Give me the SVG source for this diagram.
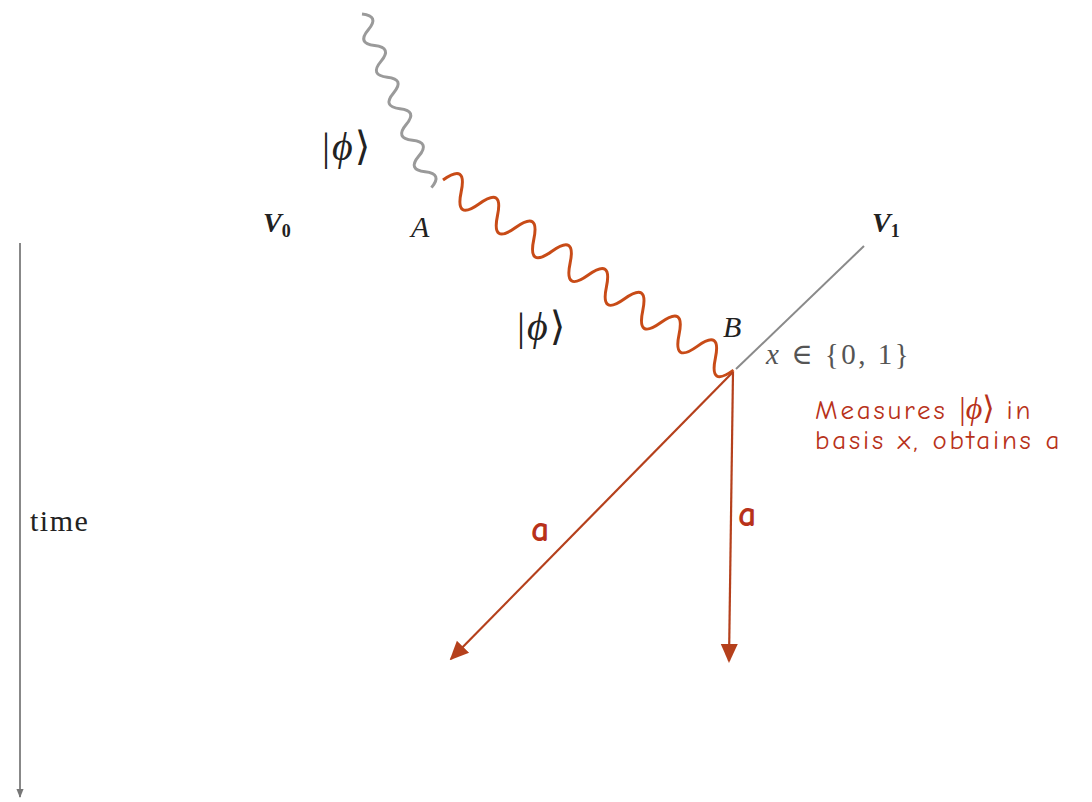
<svg xmlns="http://www.w3.org/2000/svg" width="1092" height="802" viewBox="0 0 1092 802">
<defs>
<style>
.math{font-family:"Liberation Serif","DejaVu Serif",serif;fill:#222}
.it{font-style:italic}
.hand{font-family:"Comic Neue","Lato","Noto Sans",sans-serif;fill:#b8321a}
</style>
<marker id="ahg" viewBox="0 0 10 10" refX="9" refY="5" markerWidth="9" markerHeight="9" markerUnits="userSpaceOnUse" orient="auto"><path d="M0,1L10,5L0,9z" fill="#777"/></marker>
<marker id="ahb" viewBox="0 0 10 10" refX="9" refY="5" markerWidth="19" markerHeight="19" markerUnits="userSpaceOnUse" orient="auto"><path d="M0,0.5L10,5L0,9.5z" fill="#b5401c"/></marker>
</defs>
<rect width="1092" height="802" fill="#fff"/>
<g id="connectors">
<path id="wave-gray" stroke="#9a9a9a" stroke-width="3" fill="none" transform="translate(362,14) rotate(68.2)" d="M0,0 q8.5,-16 17,0 t17,0 t17,0 t17,0 t17,0 t17,0 t17,0 t17,0 t17,0 t17,0 t17,0"/>
<path id="wave-red" stroke="#c84b17" stroke-width="3" fill="none" transform="translate(443,180) rotate(33.2)" d="M0,0 q10.8,-28 21.7,0 t21.7,0 t21.7,0 t21.7,0 t21.7,0 t21.7,0 t21.7,0 t21.7,0 t21.7,0 t21.7,0 t21.7,0 t21.7,0 t21.7,0 t21.7,0 t21.7,0 t21.7,0"/>
<line id="v1-line" x1="736" y1="369" x2="864" y2="246" stroke="#8a8a8a" stroke-width="2"/>
<line id="arrow-left" x1="733" y1="372" x2="451" y2="659" stroke="#b5401c" stroke-width="2.2" marker-end="url(#ahb)"/>
<line id="arrow-down" x1="733" y1="372" x2="729" y2="661" stroke="#b5401c" stroke-width="2.2" marker-end="url(#ahb)"/>
<line id="time-axis" x1="20" y1="243" x2="20" y2="797" stroke="#888" stroke-width="2" marker-end="url(#ahg)"/>
</g>
<g id="label-phi-top"><text class="math" x="322" y="160" font-size="40" letter-spacing="2">|<tspan class="it">ϕ</tspan>⟩</text></g>
<g id="node-V0"><text class="math it" x="263" y="232" font-size="28" font-weight="bold">V<tspan font-size="18" dy="5" font-style="normal">0</tspan></text></g>
<g id="node-A"><text class="math it" x="411" y="237" font-size="30">A</text></g>
<g id="node-V1"><text class="math it" x="872" y="232" font-size="28" font-weight="bold">V<tspan font-size="18" dy="5" font-style="normal">1</tspan></text></g>
<g id="label-phi-mid"><text class="math" x="517" y="340" font-size="40" letter-spacing="2">|<tspan class="it">ϕ</tspan>⟩</text></g>
<g id="node-B"><text class="math it" x="723" y="337" font-size="30">B</text></g>
<g id="label-x"><text class="math" x="766" y="364" font-size="29" style="fill:#555" letter-spacing="2.5"><tspan class="it">x</tspan> ∈ {0, 1}</text></g>
<g id="label-measure">
<text class="hand" x="815" y="419" font-size="27" letter-spacing="2.8">Measures <tspan class="math" style="fill:#b8321a" font-size="32" letter-spacing="0">|<tspan class="it">ϕ</tspan>⟩</tspan> in</text>
<text class="hand" x="815" y="449" font-size="27" letter-spacing="2.8">basis x, obtains a</text>
</g>
<g id="label-a-left"><text class="hand" x="531" y="541" font-size="36" font-weight="bold">a</text></g>
<g id="label-a-down"><text class="hand" x="738" y="526" font-size="36" font-weight="bold">a</text></g>
<g id="label-time"><text class="math" x="30" y="531" font-size="30" letter-spacing="1.5">time</text></g>
</svg>
